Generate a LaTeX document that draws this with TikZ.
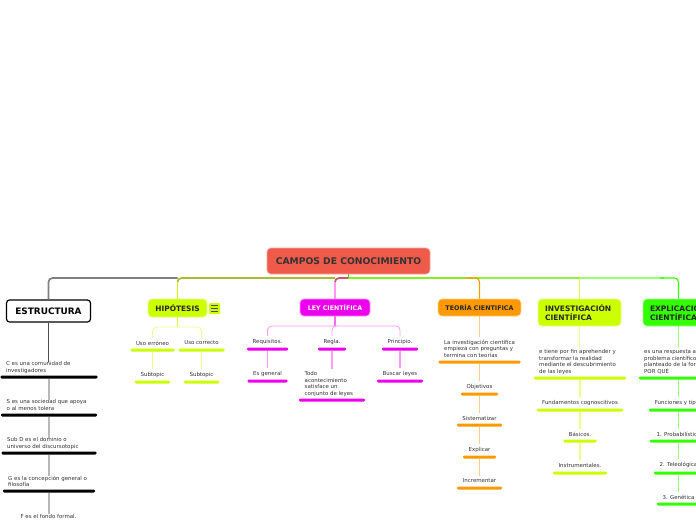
\documentclass[tikz,border=0pt]{standalone}
\usepackage{fontspec}
\setmainfont{DejaVu Sans}
\definecolor{txt}{HTML}{333333}
\definecolor{lime}{HTML}{CCFF00}
\definecolor{limel}{HTML}{EEFF88}
\definecolor{mag}{HTML}{EE00EE}
\definecolor{magl}{HTML}{FF99FF}
\definecolor{org}{HTML}{FF9900}
\definecolor{orgl}{HTML}{FFCC88}
\definecolor{grn}{HTML}{33FF00}
\definecolor{grnl}{HTML}{99FF77}
\definecolor{rootc}{HTML}{EF5A4A}
\definecolor{olivebus}{HTML}{AABB33}
\definecolor{greybus}{HTML}{808080}
\definecolor{greenbusa}{HTML}{88EE22}
\definecolor{greenbusb}{HTML}{99EE44}
\tikzset{
  tlabel/.style={font=\fontsize{5.45}{6.5}\selectfont,text=txt,inner sep=0pt,align=left},
  tbar/.style={draw=none,fill=#1,rounded corners=1.2pt,minimum height=3pt,inner sep=0pt},
  mainbox/.style={rounded corners=4pt,inner sep=0pt,draw=#1!45!white,fill=#1,line width=.7pt,font=\fontsize{7.5}{9.2}\bfseries\selectfont,text=black!85},
  conn/.style={line width=1.1pt,rounded corners=4pt},
  bus/.style={line width=1.7pt,rounded corners=4pt},
}
% name, center x, bar y, bar width, colour, text centre y, text
\newcommand{\ctopic}[7]{%
  \node[tbar=#5,minimum width=#4pt] (#1b) at (#2,#3) {};
  \node[tlabel] (#1) at (#2,#6) {#7};}
% name, center x, bar y, bar width, colour, text left x, text top y, text
\newcommand{\ltopic}[8]{%
  \node[tbar=#5,minimum width=#4pt] (#1b) at (#2,#3) {};
  \node[tlabel,anchor=north west] (#1) at (#6,#7) {#8};}
\newcommand{\linkto}[3]{\draw[conn,#1,shorten >=3pt] (#2.south) -- (#2.south |- #3.north);}
\begin{document}
\begin{tikzpicture}[x=1pt,y=-1pt]
\useasboundingbox (0,0) rectangle (696,520);
\clip (0,0) rectangle (696,520);
\fill[white] (0,0) rectangle (696,520);

% main nodes
\node[rounded corners=4pt,draw=rootc!55!white,fill=rootc,line width=.7pt,minimum width=163pt,minimum height=26pt,inner sep=0pt,font=\fontsize{9.2}{9}\bfseries\selectfont,text=black!80] (root) at (348.5,261) {CAMPOS DE CONOCIMIENTO};
\node[rounded corners=3pt,draw=black,fill=white,line width=1.2pt,minimum width=84pt,minimum height=22pt,inner sep=0pt,font=\fontsize{8.9}{9}\bfseries\selectfont,text=black] (est) at (48.5,311) {ESTRUCTURA};
\node[mainbox=lime,minimum width=59pt,minimum height=18pt,font=\fontsize{7.4}{9}\bfseries\selectfont] (hip) at (177.5,308) {HIPÓTESIS};
\node[rounded corners=1pt,fill=lime,minimum width=11pt,minimum height=11pt,inner sep=0pt] (icon) at (214.5,308.5) {};
\draw[black!70,line width=.8pt] (211,305.5) -- (218,305.5) (211,308.5) -- (218,308.5) (211,311.5) -- (218,311.5);
\node[mainbox=mag,minimum width=70pt,minimum height=17pt,text=white,font=\fontsize{6.3}{8}\bfseries\selectfont] (ley) at (335,307.5) {LEY CIENTÍFICA};
\node[mainbox=org,minimum width=83pt,minimum height=17pt,font=\fontsize{6.35}{8}\bfseries\selectfont] (teo) at (479.5,307.5) {TEORÍA CIENTIFICA};
\node[mainbox=lime,minimum width=83pt,minimum height=27pt,align=left,text width=69pt] (inv) at (579.5,312.5) {INVESTIGACIÓN\\CIENTÍFICA};
\node[mainbox=grn,minimum width=71pt,minimum height=27pt,align=left,text width=57pt] (exp) at (678.5,312.5) {EXPLICACIÓN\\CIENTÍFICA};

% top bus
\coordinate (rootdown) at (348.5,278);
\draw[conn,color=lime] (hip.north) -- ++(0,-17);
\draw[bus,color=greybus] (est.north) |- (hip.north |- rootdown);
\draw[bus,color=olivebus] (hip.north |- 0,282) -- ++(0,-4) -- (ley.north |- rootdown);
\draw[conn,color=magl] (ley.north) -- ++(0,-17);
\draw[bus,color=magenta!60!olive] (ley.north |- 0,282) -- ++(0,-4) -- (rootdown);
\draw[bus,color=greenbusa] (rootdown) -- (teo.north |- rootdown);
\draw[bus,color=greenbusb] (teo.north |- rootdown) -- (inv.north |- rootdown);
\draw[bus,color=grnl] (inv.north |- rootdown) -- (664,278);
\draw[conn,color=org] (teo.north) |- (465,278);
\draw[conn,color=lime!70!white] (inv.north) -- ++(0,-21);
\draw[conn,color=grn] (exp.north) |- (660,278);
\draw[conn,grn!85!black] (root.south -| rootdown) -- (rootdown);

% ESTRUCTURA
\ltopic{c}{49}{377}{97}{black}{6}{361.5}{C es una comunidad de\\investigadores}
\ltopic{s}{49}{415}{96}{black}{6.5}{399.5}{S es una sociedad que apoya\\o al menos tolera}
\ltopic{d}{49}{453}{95}{black}{7}{437.5}{Sub D es el dominio o\\universo del discursotopic}
\ltopic{g}{49}{491}{92}{black}{8}{475.5}{G es la concepción general o\\filosofía}
\node[tlabel] (f) at (48.5,516) {F es el fondo formal.};
\draw[conn,color=black!70] (est.south) -- (est.south |- c.north) ;
\draw[conn,color=black!28] (cb.south) -- (cb.south |- s.north);
\draw[conn,color=black!28] (sb.south) -- (sb.south |- d.north);
\draw[conn,color=black!28] (db.south) -- (db.south |- g.north);
\draw[conn,color=black!28] (gb.south) -- (gb.south |- f.north);

% HIPOTESIS
\ctopic{he}{152.5}{350}{44}{lime}{343}{Uso erróneo}
\ctopic{hc}{201.5}{350}{46}{lime}{343}{Uso correcto}
\ctopic{hes}{152.5}{382}{35}{lime}{375}{Subtopic}
\ctopic{hcs}{201.5}{382}{35}{lime}{375}{Subtopic}
\draw[conn,color=lime!80!white] (hip.south) -- ++(0,10);
\draw[conn,color=limel,line width=.8pt,shorten >=3pt] (hip.south |- 0,327) -| (he.north);
\draw[conn,color=limel,line width=.8pt,shorten >=3pt] (hip.south |- 0,327) -| (hc.north);
\linkto{color=limel}{heb}{hes}
\linkto{color=limel}{hcb}{hcs}

% LEY
\ctopic{lr}{267.5}{349}{41}{mag}{342}{Requisitos.}
\ctopic{lg}{332}{349}{28}{mag}{342}{Regla.}
\ctopic{lp}{400}{349}{36}{mag}{342}{Principio.}
\ctopic{lre}{267.5}{381}{40}{mag}{374}{Es general}
\ltopic{lgt}{332}{400}{66}{mag}{304.5}{371.5}{Todo\\acontecimiento\\satisface un\\conjunto de leyes}
\ctopic{lpl}{400}{381}{46}{mag}{374}{Buscar leyes}
\draw[conn,color=magl!70!mag] (ley.south) -- ++(0,10);
\draw[conn,color=magl,line width=.8pt,shorten >=3pt] (ley.south |- 0,326) -| (lr.north);
\draw[conn,color=magl,line width=.8pt,shorten >=3pt] (ley.south |- 0,326) -| (lg.north);
\draw[conn,color=magl,line width=.8pt,shorten >=3pt] (ley.south |- 0,326) -| (lp.north);
\linkto{color=magl}{lrb}{lre}
\linkto{color=magl}{lgb}{lgt}
\linkto{color=magl}{lpb}{lpl}

% TEORIA
\ltopic{t}{479.5}{362}{82}{org}{444}{339.5}{La investigación científica\\empieza con preguntas y\\termina con teorías}
\ctopic{to}{479.5}{394}{37}{org}{387}{Objetivos}
\ctopic{ts}{479.5}{425}{45}{org}{418}{Sistematizar}
\ctopic{te}{479.5}{457}{33}{org}{450}{Explicar}
\ctopic{ti}{479.5}{488}{45}{org}{481}{Incrementar}
\linkto{color=orgl}{teo}{t}
\linkto{color=orgl}{tb}{to}
\linkto{color=orgl}{tob}{ts}
\linkto{color=orgl}{tsb}{te}
\linkto{color=orgl}{teb}{ti}

% INVESTIGACION
\ltopic{i}{580}{378}{92}{lime}{539}{349.5}{e tiene por fin aprehender y\\transformar la realidad\\mediante el descubrimiento\\de las leyes}
\ctopic{if}{580}{410}{86}{lime}{403}{Fundamentos cognoscitivos}
\ctopic{ia}{580}{441}{33}{lime}{434}{Básicos.}
\ctopic{ii}{580}{473}{54}{lime}{465}{Instrumentales.}
\draw[conn,color=limel,shorten >=3pt] (inv.south) -- (inv.south |- i.north);
\linkto{color=limel}{ib}{if}
\linkto{color=limel}{ifb}{ia}
\linkto{color=limel}{iab}{ii}

% EXPLICACION
\ltopic{x}{678.5}{378}{79}{grn}{644}{349.5}{es una respuesta a un\\problema científico\\planteado de la forma\\POR QUÉ}
\ctopic{xf}{678.5}{410}{59}{grn}{403}{Funciones y tipos}
\ctopic{xp}{678.5}{441}{57}{grn}{434}{1. Probabilística}
\ctopic{xt}{678.5}{473}{49}{grn}{465}{2. Teleológica}
\ctopic{xg}{678.5}{504}{43}{grn}{497}{3. Genética}
\draw[conn,color=grnl,shorten >=3pt] (exp.south) -- (exp.south |- x.north);
\linkto{color=grnl}{xb}{xf}
\linkto{color=grnl}{xfb}{xp}
\linkto{color=grnl}{xpb}{xt}
\linkto{color=grnl}{xtb}{xg}
\end{tikzpicture}
\end{document}
